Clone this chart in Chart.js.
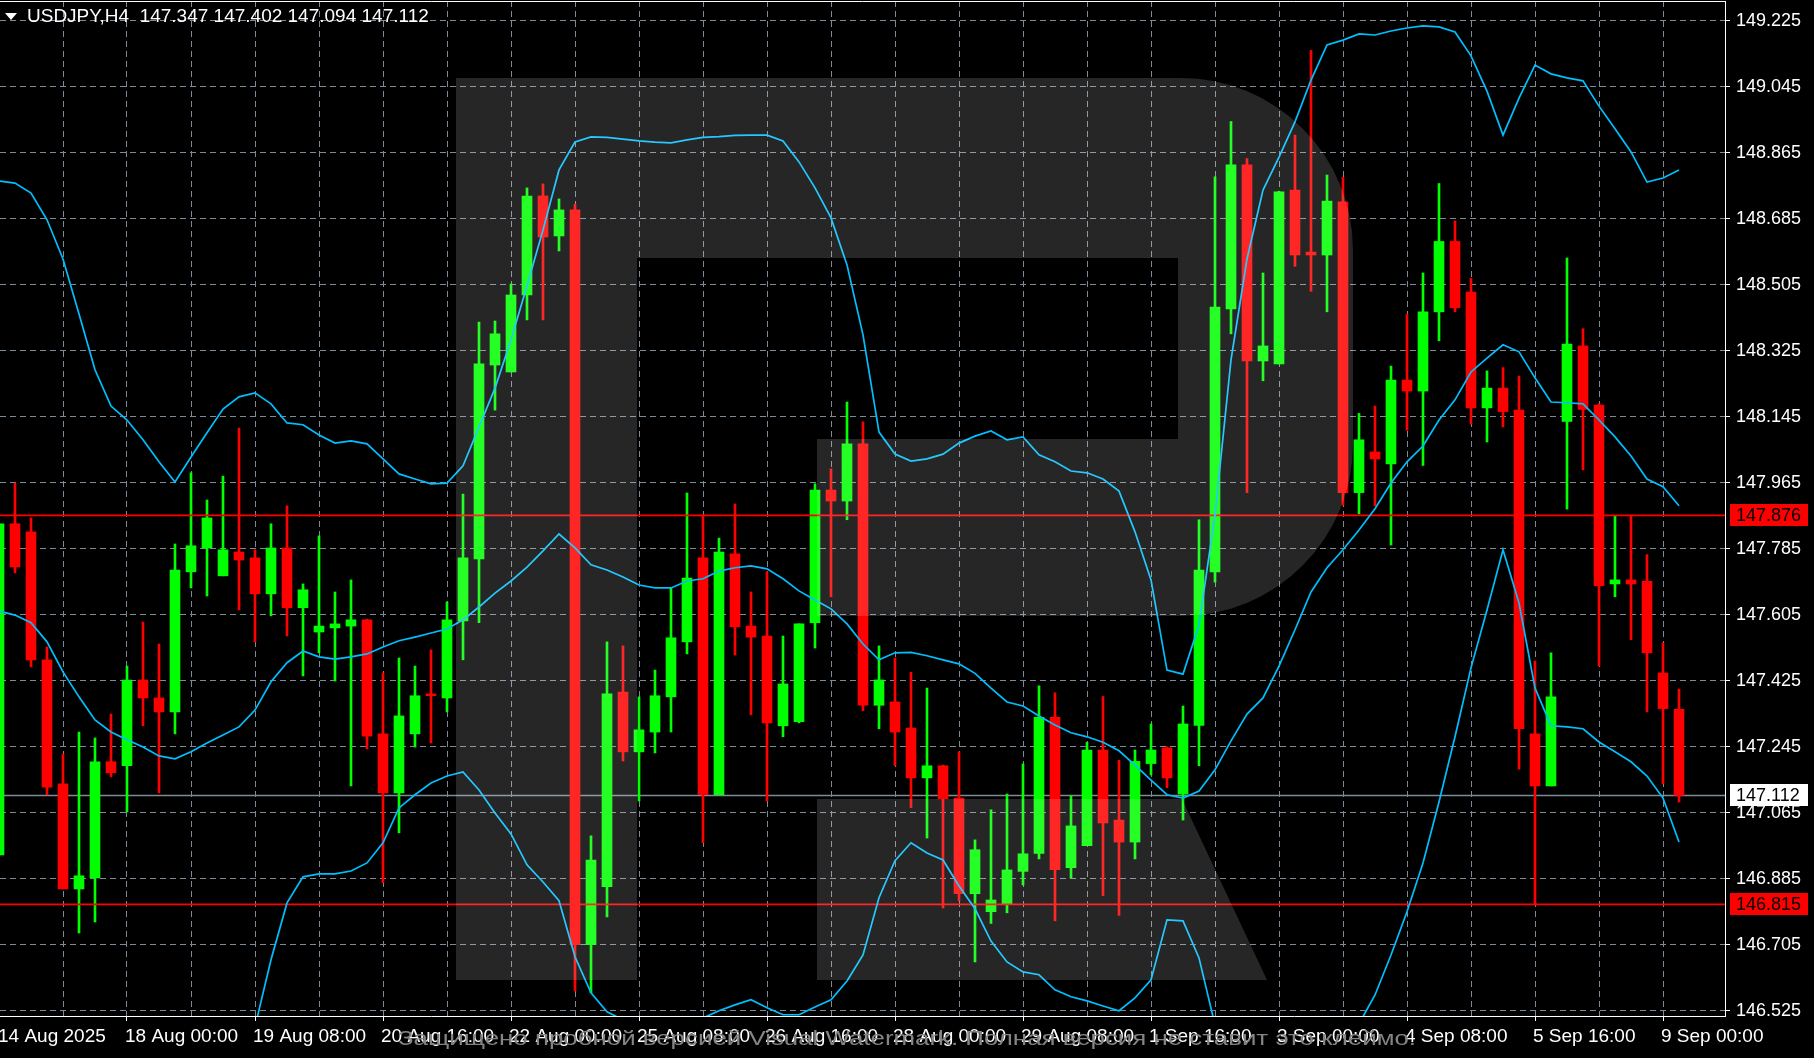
<!DOCTYPE html>
<html lang="en">
<head>
<meta charset="utf-8">
<title>USDJPY H4</title>
<script src="https://cdn.jsdelivr.net/npm/chart.js@4.4.1/dist/chart.umd.min.js"></script>
<style>
  html, body { margin: 0; padding: 0; background: #000; overflow: hidden; }
  canvas { display: block; }
</style>
</head>
<body>
<canvas id="chart" width="1814" height="1058"></canvas>
<script>
const headerText = 'USDJPY,H4  147.347 147.402 147.094 147.112';
const noticeText = 'Защищено пробной версией Visual Watermark. Полная версия не ставит это клеймо.';

// H4 candles, 14 Aug 16:00 .. 9 Sep 04:00
const opens = [
  146.950, 147.853, 147.831, 147.482, 147.144, 146.857, 146.887, 147.204, 147.193, 147.427,
  147.378, 147.340, 147.722, 147.787, 147.711, 147.776, 147.760, 147.662, 147.787, 147.624,
  147.558, 147.569, 147.574, 147.591, 147.280, 147.119, 147.280, 147.389, 147.378, 147.588,
  147.757, 148.286, 148.267, 148.477, 148.747, 148.638, 148.709, 146.705, 146.863, 147.394,
  147.231, 147.285, 147.381, 147.531, 147.760, 147.114, 147.771, 147.574, 147.547, 147.302,
  147.313, 147.583, 147.945, 147.915, 148.071, 147.358, 147.367, 147.296, 147.160, 147.193,
  147.105, 146.844, 146.795, 146.816, 146.905, 146.954, 147.325, 146.915, 146.975, 147.236,
  147.045, 146.985, 147.199, 147.242, 147.116, 147.303, 147.722, 148.439, 148.832, 148.297,
  148.289, 148.763, 148.594, 148.586, 148.731, 147.938, 148.049, 148.016, 148.245, 148.215,
  148.431, 148.623, 148.485, 148.169, 148.223, 148.163, 147.280, 147.138, 148.132, 148.338,
  148.177, 147.689, 147.700, 147.696, 147.446, 147.347
];
const highs = [
  147.853, 147.964, 147.869, 147.517, 147.225, 147.285, 147.269, 147.334, 147.465, 147.585,
  147.525, 147.798, 147.992, 147.918, 147.983, 148.114, 147.782, 147.853, 147.902, 147.689,
  147.820, 147.667, 147.700, 147.593, 147.446, 147.487, 147.465, 147.509, 147.640, 147.934,
  148.403, 148.406, 148.507, 148.769, 148.780, 148.739, 148.725, 147.002, 147.531, 147.520,
  147.381, 147.454, 147.678, 147.937, 147.877, 147.814, 147.907, 147.667, 147.722, 147.547,
  147.580, 147.962, 148.003, 148.185, 148.131, 147.520, 147.487, 147.448, 147.405, 147.195,
  147.231, 146.991, 147.073, 147.116, 147.198, 147.411, 147.392, 147.111, 147.257, 147.382,
  147.208, 147.236, 147.307, 147.245, 147.356, 147.864, 148.799, 148.950, 148.849, 148.537,
  148.760, 148.913, 149.144, 148.804, 148.798, 148.154, 148.174, 148.283, 148.425, 148.537,
  148.781, 148.679, 148.522, 148.270, 148.279, 148.256, 147.479, 147.501, 148.578, 148.385,
  148.180, 147.874, 147.874, 147.769, 147.528, 147.402
];
const lows = [
  146.950, 147.719, 147.463, 147.114, 146.857, 146.737, 146.767, 147.163, 147.067, 147.302,
  147.119, 147.280, 147.678, 147.656, 147.711, 147.618, 147.531, 147.602, 147.547, 147.438,
  147.501, 147.424, 147.138, 147.239, 146.874, 147.010, 147.244, 147.255, 147.340, 147.482,
  147.583, 148.163, 148.267, 148.409, 148.409, 148.597, 146.579, 146.574, 146.781, 147.206,
  147.097, 147.228, 147.285, 147.498, 146.983, 147.114, 147.495, 147.332, 147.097, 147.272,
  147.310, 147.514, 147.654, 147.864, 147.343, 147.294, 147.194, 147.079, 146.996, 146.805,
  146.825, 146.658, 146.763, 146.792, 146.868, 146.939, 146.770, 146.887, 146.975, 146.839,
  146.785, 146.939, 147.168, 147.133, 147.045, 147.193, 147.694, 148.371, 147.938, 148.243,
  148.289, 148.555, 148.487, 148.431, 147.904, 147.880, 147.902, 147.795, 148.108, 148.012,
  148.352, 148.431, 148.125, 148.076, 148.117, 147.184, 146.815, 147.138, 147.893, 148.000,
  147.465, 147.654, 147.537, 147.340, 147.144, 147.094
];
const closes = [
  147.853, 147.735, 147.482, 147.135, 146.857, 146.893, 147.204, 147.174, 147.427, 147.378,
  147.340, 147.727, 147.793, 147.869, 147.782, 147.754, 147.662, 147.787, 147.624, 147.673,
  147.574, 147.580, 147.591, 147.274, 147.119, 147.329, 147.384, 147.384, 147.591, 147.760,
  148.289, 148.371, 148.477, 148.747, 148.635, 148.709, 146.705, 146.936, 147.389, 147.231,
  147.291, 147.384, 147.542, 147.705, 147.114, 147.776, 147.572, 147.544, 147.310, 147.416,
  147.580, 147.945, 147.915, 148.071, 147.358, 147.427, 147.285, 147.160, 147.193, 147.103,
  146.844, 146.964, 146.827, 146.909, 146.953, 147.325, 146.910, 147.029, 147.236, 147.037,
  146.985, 147.205, 147.236, 147.160, 147.307, 147.727, 148.444, 148.832, 148.297, 148.338,
  148.758, 148.586, 148.586, 148.733, 147.938, 148.082, 148.030, 148.245, 148.215, 148.431,
  148.623, 148.442, 148.169, 148.223, 148.159, 147.294, 147.138, 147.381, 148.343, 148.165,
  147.684, 147.700, 147.689, 147.501, 147.349, 147.112
];

// Bollinger bands
const bbUpper = [
  148.788, 148.782, 148.755, 148.682, 148.575, 148.425, 148.273, 148.174, 148.136, 148.082,
  148.022, 147.967, 148.035, 148.101, 148.166, 148.199, 148.210, 148.180, 148.128, 148.123,
  148.095, 148.073, 148.079, 148.071, 148.030, 147.989, 147.975, 147.962, 147.964, 148.011,
  148.117, 148.223, 148.354, 148.502, 148.654, 148.818, 148.894, 148.908, 148.907, 148.902,
  148.897, 148.894, 148.892, 148.900, 148.907, 148.909, 148.912, 148.913, 148.913, 148.897,
  148.840, 148.769, 148.687, 148.559, 148.368, 148.103, 148.043, 148.024, 148.030, 148.043,
  148.073, 148.092, 148.106, 148.082, 148.090, 148.041, 148.022, 147.997, 147.992, 147.975,
  147.942, 147.831, 147.700, 147.454, 147.443, 147.577, 147.877, 148.300, 148.575, 148.763,
  148.853, 148.949, 149.063, 149.159, 149.172, 149.189, 149.186, 149.197, 149.205, 149.211,
  149.208, 149.194, 149.129, 149.033, 148.913, 149.014, 149.104, 149.080, 149.069, 149.061,
  148.992, 148.930, 148.867, 148.785, 148.796, 148.818
];
const bbMiddle = [
  147.615, 147.604, 147.583, 147.531, 147.449, 147.381, 147.318, 147.285, 147.264, 147.244,
  147.220, 147.212, 147.231, 147.255, 147.277, 147.299, 147.345, 147.422, 147.474, 147.506,
  147.490, 147.484, 147.490, 147.498, 147.517, 147.534, 147.544, 147.555, 147.566, 147.591,
  147.626, 147.664, 147.697, 147.735, 147.779, 147.825, 147.787, 147.741, 147.727, 147.708,
  147.686, 147.678, 147.678, 147.697, 147.703, 147.724, 147.733, 147.738, 147.730, 147.703,
  147.670, 147.645, 147.621, 147.580, 147.525, 147.482, 147.501, 147.502, 147.493, 147.482,
  147.471, 147.445, 147.405, 147.367, 147.356, 147.329, 147.304, 147.283, 147.272, 147.257,
  147.234, 147.195, 147.154, 147.114, 147.105, 147.124, 147.182, 147.261, 147.334, 147.378,
  147.465, 147.564, 147.667, 147.733, 147.782, 147.836, 147.894, 147.964, 148.022, 148.065,
  148.136, 148.191, 148.267, 148.305, 148.341, 148.322, 148.251, 148.185, 148.183, 148.180,
  148.136, 148.090, 148.038, 147.975, 147.954, 147.902
];
const bbLower = [
  146.443, 146.426, 146.410, 146.380, 146.323, 146.336, 146.364, 146.396, 146.391, 146.407,
  146.418, 146.456, 146.426, 146.410, 146.388, 146.399, 146.481, 146.664, 146.819, 146.890,
  146.898, 146.898, 146.906, 146.928, 146.983, 147.078, 147.114, 147.146, 147.165, 147.176,
  147.127, 147.064, 147.007, 146.923, 146.876, 146.825, 146.672, 146.574, 146.522, 146.500,
  146.475, 146.462, 146.465, 146.495, 146.505, 146.525, 146.541, 146.555, 146.533, 146.514,
  146.514, 146.535, 146.555, 146.606, 146.677, 146.833, 146.934, 146.983, 146.955, 146.936,
  146.865, 146.803, 146.715, 146.658, 146.631, 146.623, 146.582, 146.563, 146.552, 146.538,
  146.525, 146.560, 146.609, 146.773, 146.770, 146.669, 146.486, 146.222, 146.094, 145.993,
  146.077, 146.178, 146.271, 146.306, 146.391, 146.489, 146.568, 146.677, 146.795, 146.928,
  147.094, 147.272, 147.460, 147.618, 147.782, 147.637, 147.405, 147.302, 147.299, 147.294,
  147.258, 147.231, 147.204, 147.165, 147.105, 146.985
];

const levelPrices = [147.876, 146.815];
const bidPrice = 147.112;

const yTicks = [
  146.525, 146.705, 146.885, 147.065, 147.245, 147.425, 147.605, 147.785,
  147.965, 148.145, 148.325, 148.505, 148.685, 148.865, 149.045, 149.225
];
const firstLabel = '14 Aug 2025';
const xTickBars = [8, 16, 24, 32, 40, 48, 56, 64, 72, 80, 88, 96, 104];
const xTickLabels = [
  '18 Aug 00:00', '19 Aug 08:00', '20 Aug 16:00', '22 Aug 00:00', '25 Aug 08:00',
  '26 Aug 16:00', '28 Aug 00:00', '29 Aug 08:00', '1 Sep 16:00', '3 Sep 00:00',
  '4 Sep 08:00', '5 Sep 16:00', '9 Sep 00:00'
];

const xMin = 0.0625, xMax = 107.875;
const yMin = 146.5106, yMax = 149.2787;

const BULL = '#00ff00', BEAR = '#ff0000', BAND = '#00bfff', GRID = 'rgb(125,138,152)';
const FONT = '"Liberation Sans", Arial, sans-serif';

Chart.defaults.font.family = FONT;
Chart.defaults.font.size = 18;

function candleColors() {
    return closes.map((c, i) => c >= opens[i] ? BULL : BEAR);
}

function xTickValues() {
    const vals = [xMin];
    for (let b = 4; b <= 104; b += 4) vals.push(b);
    return vals;
}

function xLabel(v) {
    if (v < 1) return firstLabel;
    const k = xTickBars.indexOf(v);
    return k >= 0 ? xTickLabels[k] : '';
}

function noPadding(s) {
    s.paddingTop = 0; s.paddingBottom = 0;
    s.paddingLeft = 0; s.paddingRight = 0;
}

function bandSet(values, label) {
    return {
        type: 'line', label: label, order: 0,
        data: values.map((v, i) => ({ x: i, y: v })),
        borderColor: BAND, borderWidth: 1.7, pointRadius: 0, tension: 0, fill: false
    };
}

function levelSet(price, color, order) {
    return {
        type: 'line', order: order,
        data: [{ x: xMin, y: price }, { x: xMax, y: price }],
        borderColor: color, borderWidth: 1.6, pointRadius: 0, fill: false
    };
}

function drawLogo(ctx) {
    ctx.beginPath();
    ctx.moveTo(456, 78);
    ctx.lineTo(1181, 78);
    ctx.arc(1181, 250, 172, -Math.PI / 2, 0);
    ctx.lineTo(1353, 444);
    ctx.arc(1181, 444, 172, 0, Math.PI / 2);
    ctx.lineTo(817, 616);
    ctx.lineTo(817, 439);
    ctx.lineTo(1178, 439);
    ctx.lineTo(1178, 258);
    ctx.lineTo(637, 258);
    ctx.lineTo(637, 980);
    ctx.lineTo(456, 980);
    ctx.closePath();
    ctx.moveTo(817, 799);
    ctx.lineTo(1182, 799);
    ctx.lineTo(1267, 980);
    ctx.lineTo(817, 980);
    ctx.closePath();
    ctx.fillStyle = 'rgba(255,255,255,0.15)';
    ctx.fill();
}

function drawTag(ctx, area, yScale, price, fill) {
    const py = Math.round(yScale.getPixelForValue(price));
    ctx.fillStyle = fill;
    ctx.fillRect(area.right + 5, py - 11, 78, 22);
    ctx.fillStyle = '#000';
    ctx.font = '18px ' + FONT;
    ctx.textAlign = 'left';
    ctx.textBaseline = 'middle';
    ctx.fillText(price.toFixed(3), area.right + 11, py + 1);
}

const backdrop = {
    id: 'backdrop',
    beforeDraw(chart) {
        const ctx = chart.ctx;
        ctx.save();
        ctx.fillStyle = '#000';
        ctx.fillRect(0, 0, chart.width, chart.height);
        ctx.restore();
    }
};

const overlay = {
    id: 'overlay',
    afterDraw(chart) {
        const { ctx, chartArea: area } = chart;
        const yScale = chart.scales.y;
        ctx.save();

        ctx.strokeStyle = '#fff';
        ctx.lineWidth = 1;
        ctx.beginPath();
        ctx.moveTo(0, area.top + 0.5);
        ctx.lineTo(area.right, area.top + 0.5);
        ctx.stroke();

        levelPrices.forEach(p => drawTag(ctx, area, yScale, p, '#ff0000'));
        drawTag(ctx, area, yScale, bidPrice, '#ffffff');

        drawLogo(ctx);

        // header
        ctx.fillStyle = '#fff';
        ctx.beginPath();
        ctx.moveTo(5, 13); ctx.lineTo(17, 13); ctx.lineTo(11, 20);
        ctx.closePath();
        ctx.fill();
        ctx.font = '19px ' + FONT;
        ctx.textAlign = 'left';
        ctx.textBaseline = 'middle';
        ctx.fillText(headerText, 27, 17);

        // trial stamp along the bottom
        ctx.font = '21px ' + FONT;
        const w = ctx.measureText(noticeText).width;
        ctx.translate(398, 1039);
        ctx.scale(1018 / w, 1);
        ctx.fillStyle = 'rgb(132,132,132)';
        ctx.fillText(noticeText, 0, 0);

        ctx.restore();
    }
};

const colors = candleColors();

const chart = new Chart(document.getElementById('chart'), {
    type: 'line',
    data: {
        datasets: [
            bandSet(bbUpper, 'upper'),
            bandSet(bbMiddle, 'middle'),
            bandSet(bbLower, 'lower'),
            levelSet(levelPrices[0], '#ff0000', 1),
            levelSet(levelPrices[1], '#ff0000', 1),
            {
                type: 'bar', order: 2, grouped: false, barThickness: 10, minBarLength: 1,
                data: opens.map((o, i) => ({ x: i, y: [o, closes[i]] })),
                backgroundColor: colors, borderWidth: 0
            },
            {
                type: 'bar', order: 3, grouped: false, barThickness: 2,
                data: lows.map((l, i) => ({ x: i, y: [l, highs[i]] })),
                backgroundColor: colors, borderWidth: 0
            },
            levelSet(bidPrice, GRID, 4)
        ]
    },
    options: {
        responsive: false,
        devicePixelRatio: 1,
        animation: false,
        events: [],
        layout: { padding: { top: 1, left: 0, right: 0, bottom: 0 } },
        plugins: { legend: { display: false }, tooltip: { enabled: false } },
        scales: {
            x: {
                type: 'linear', position: 'bottom', min: xMin, max: xMax, bounds: 'data', offset: false,
                afterBuildTicks: s => { s.ticks = xTickValues().map(v => ({ value: v })); },
                afterFit: s => { s.height = 42; noPadding(s); },
                grid: {
                    offset: false, lineWidth: 1,
                    color: c => (c.tick && c.tick.value < 1) ? 'rgba(0,0,0,0)' : GRID,
                    tickLength: 5, tickWidth: 1, tickBorderDash: [],
                    tickColor: c => (c.tick && xTickBars.includes(c.tick.value)) ? '#fff' : 'rgba(0,0,0,0)'
                },
                border: { display: true, color: '#fff', width: 1, dash: [6, 4] },
                ticks: {
                    autoSkip: false, maxRotation: 0, minRotation: 0, align: 'start',
                    color: '#fff', padding: 4, labelOffset: -2,
                    font: { size: 19 },
                    callback: v => xLabel(v)
                }
            },
            y: {
                type: 'linear', position: 'right', min: yMin, max: yMax, bounds: 'data', beginAtZero: false,
                afterBuildTicks: s => { s.ticks = yTicks.map(v => ({ value: v })); },
                afterFit: s => { s.width = 89; noPadding(s); },
                grid: { color: GRID, lineWidth: 1, tickLength: 5, tickWidth: 1, tickColor: '#fff', tickBorderDash: [] },
                border: { display: true, color: '#fff', width: 1, dash: [6, 4] },
                ticks: { autoSkip: false, color: '#fff', padding: 6, callback: v => v.toFixed(3) }
            }
        }
    },
    plugins: [backdrop, overlay]
});
</script>
</body>
</html>
